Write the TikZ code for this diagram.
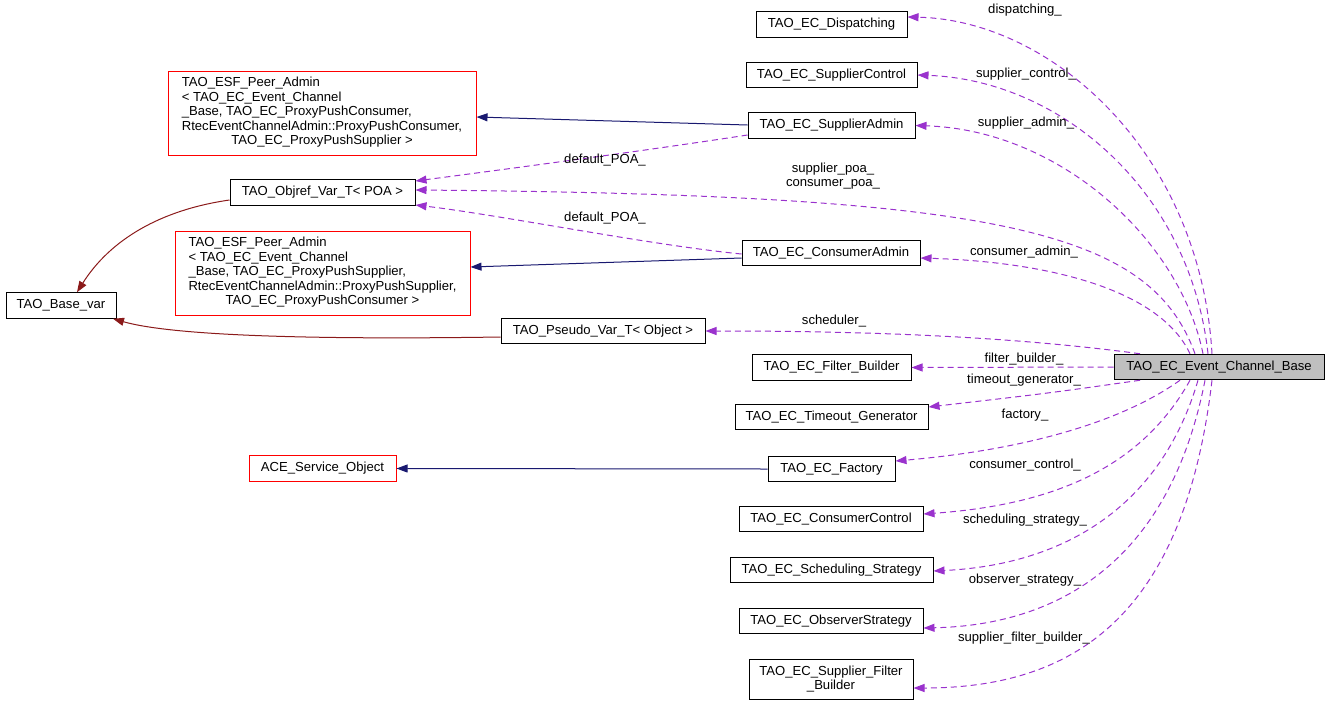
\documentclass[tikz,border=0pt]{standalone}
\usepackage{fontspec}
\setmainfont{Liberation Sans}
\usetikzlibrary{arrows.meta}
\definecolor{dep}{HTML}{9A32CD}
\definecolor{inhb}{HTML}{191970}
\definecolor{inhr}{HTML}{8B1A1A}
\definecolor{ecgray}{HTML}{BFBFBF}
\tikzset{
  box/.style={draw=black, line width=1pt, minimum height=25.5pt, inner sep=0pt, font=\fontsize{13.1}{14.5}\selectfont},
  redbox/.style={draw=red, line width=1pt, inner sep=0pt, font=\fontsize{13.1}{14.5}\selectfont},
  lbl/.style={inner sep=0pt, font=\fontsize{13.1}{14.5}\selectfont, align=center},
  depline/.style={draw=dep, line width=1pt, dash pattern=on 6pt off 4pt, -{Triangle[length=11pt,width=8pt]}},
  inhblue/.style={draw=inhb, line width=1pt, -{Triangle[length=11pt,width=8pt]}},
  inhred/.style={draw=inhr, line width=1pt, -{Triangle[length=11pt,width=8pt]}},
}
\begin{document}
\begin{tikzpicture}[x=1pt,y=-1pt]
\useasboundingbox (0,0) rectangle (1328,705);
% nodes
\node[box, minimum width=151pt] (disp) at (831.5,24.5) {TAO\_EC\_Dispatching};
\node[box, minimum width=171pt] (supctl) at (831.5,75) {TAO\_EC\_SupplierControl};
\node[box, minimum width=167pt] (supadm) at (831.5,125.5) {TAO\_EC\_SupplierAdmin};
\node[redbox, minimum width=308pt, minimum height=84pt] (peer1) at (322,113) {\begin{tabular}{@{}l@{}}TAO\_ESF\_Peer\_Admin\\ <~TAO\_EC\_Event\_Channel\\ \_Base, TAO\_EC\_ProxyPushConsumer,\\ \multicolumn{1}{@{}c@{}}{RtecEventChannelAdmin::ProxyPushConsumer,}\\ \multicolumn{1}{@{}c@{}}{TAO\_EC\_ProxyPushSupplier >}\end{tabular}};
\node[box, minimum width=185pt] (objref) at (322.5,192.5) {TAO\_Objref\_Var\_T< POA >};
\node[redbox, minimum width=295pt, minimum height=84pt] (peer2) at (322.5,273) {\begin{tabular}{@{}l@{}}TAO\_ESF\_Peer\_Admin\\ <~TAO\_EC\_Event\_Channel\\ \_Base, TAO\_EC\_ProxyPushSupplier,\\ \multicolumn{1}{@{}c@{}}{RtecEventChannelAdmin::ProxyPushSupplier,}\\ \multicolumn{1}{@{}c@{}}{TAO\_EC\_ProxyPushConsumer >}\end{tabular}};
\node[box, minimum width=178pt] (conadm) at (831,253) {TAO\_EC\_ConsumerAdmin};
\node[box, minimum width=110pt] (base) at (61,305.5) {TAO\_Base\_var};
\node[box, minimum width=204pt] (pseudo) at (603,331) {TAO\_Pseudo\_Var\_T< Object >};
\node[box, minimum width=210pt, fill=ecgray] (ecb) at (1219,367) {TAO\_EC\_Event\_Channel\_Base};
\node[box, minimum width=159pt] (fb) at (831.5,367.5) {TAO\_EC\_Filter\_Builder};
\node[box, minimum width=193pt] (tg) at (831.5,417) {TAO\_EC\_Timeout\_Generator};
\node[redbox, minimum width=147pt, minimum height=25.5pt] (ace) at (322.5,468.5) {ACE\_Service\_Object};
\node[box, minimum width=127pt] (fac) at (831.5,469) {TAO\_EC\_Factory};
\node[box, minimum width=184pt] (cc) at (831,519) {TAO\_EC\_ConsumerControl};
\node[box, minimum width=203pt] (ss) at (831.5,570) {TAO\_EC\_Scheduling\_Strategy};
\node[box, minimum width=184pt] (os) at (831,621) {TAO\_EC\_ObserverStrategy};
\node[box, minimum width=164pt, minimum height=40pt, align=center] (sfb) at (831,679) {TAO\_EC\_Supplier\_Filter\\ \_Builder};
% inheritance
\draw[inhblue] (supadm.west |- 0,125) -- (peer1.east |- 0,117);
\draw[inhblue] (conadm.west |- 0,258) -- (peer2.east |- 0,267);
\draw[inhblue] (fac.west) -- (ace.east);
\draw[inhred] ([yshift=-7.5pt]objref.west) .. controls (160,210) and (110,240) .. ([xshift=16pt]base.north);
\draw[inhred] ([yshift=-6pt]pseudo.west) .. controls (300,340) and (170,335) .. ([xshift=52pt]base.south);
% dependencies
\draw[depline] ([xshift=-7pt]ecb.north) .. controls (1200,150) and (1050,20) .. ([yshift=7.5pt]disp.east);
\draw[depline] ([xshift=-11pt]ecb.north) .. controls (1190,190) and (1060,80) .. (supctl.east);
\draw[depline] ([xshift=-16pt]ecb.north) .. controls (1180,240) and (1060,130) .. (supadm.east);
\draw[depline] ([xshift=-24pt]ecb.north) .. controls (1150,230) and (1000,195) .. ([yshift=2.5pt]objref.east);
\draw[depline] ([xshift=-29pt]ecb.north) .. controls (1160,290) and (1050,262) .. ([yshift=-5pt]conadm.east);
\draw[depline] ([xshift=-79pt]ecb.north) .. controls (1000,335) and (850,331) .. (pseudo.east);
\draw[depline] (ecb.west) -- (fb.east);
\draw[depline] ([xshift=-79pt]ecb.south) .. controls (1050,393) .. ([yshift=10pt]tg.east);
\draw[depline] ([xshift=-39pt]ecb.south) .. controls (1110,430) and (1000,452) .. ([yshift=8pt]fac.east);
\draw[depline] ([xshift=-29pt]ecb.south) .. controls (1140,470) and (1050,505) .. ([yshift=5pt]cc.east);
\draw[depline] ([xshift=-21pt]ecb.south) .. controls (1160,510) and (1060,565) .. ([yshift=-1pt]ss.east);
\draw[depline] ([xshift=-14pt]ecb.south) .. controls (1170,560) and (1060,625) .. ([yshift=-7pt]os.east);
\draw[depline] ([xshift=-7pt]ecb.south) .. controls (1185,610) and (1080,688) .. ([yshift=-9pt]sfb.east);
\draw[depline] (supadm.west |- 0,135) .. controls (650,150) and (500,170) .. ([yshift=11.5pt]objref.east);
\draw[depline] (conadm.west |- 0,254) .. controls (650,245) and (500,215) .. ([yshift=-12.5pt]objref.east);
% labels
\node[lbl] (l1) at (1025,10) {dispatching\_};
\node[lbl] (l2) at (1026,74) {supplier\_control\_};
\node[lbl] (l3) at (1026,123) {supplier\_admin\_};
\node[lbl] (l4) at (833,176) {supplier\_poa\_\\ consumer\_poa\_};
\node[lbl] (l5) at (605,160) {default\_POA\_};
\node[lbl] (l6) at (605,218) {default\_POA\_};
\node[lbl] (l7) at (1024,252) {consumer\_admin\_};
\node[lbl] (l8) at (834,321) {scheduler\_};
\node[lbl] (l9) at (1024,359) {filter\_builder\_};
\node[lbl] (l10) at (1024,380) {timeout\_generator\_};
\node[lbl] (l11) at (1025,415) {factory\_};
\node[lbl] (l12) at (1025,465) {consumer\_control\_};
\node[lbl] (l13) at (1025,520) {scheduling\_strategy\_};
\node[lbl] (l14) at (1025,580) {observer\_strategy\_};
\node[lbl] (l15) at (1024,638) {supplier\_filter\_builder\_};
\end{tikzpicture}
\end{document}
